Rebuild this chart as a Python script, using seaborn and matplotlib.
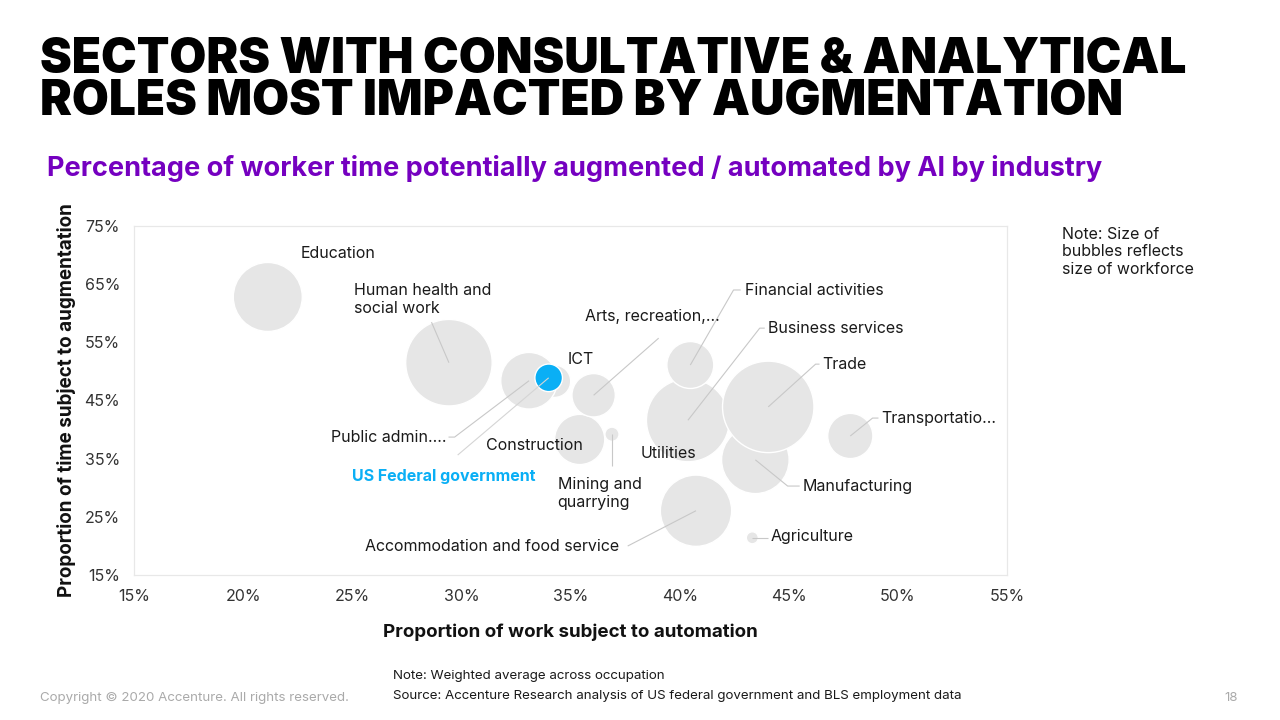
import matplotlib
matplotlib.use("Agg")
import matplotlib.pyplot as plt
import seaborn as sns
import pandas as pd

# ---------------- data ----------------
sectors = ["Utilities", "Business services", "Financial activities", "Manufacturing", "Trade",
           "Human health and social work", "Education", "Accommodation and food service",
           "Construction", "Mining and quarrying", "Arts, recreation,...", "ICT",
           "Public admin....", "Transportatio...", "Agriculture", "US Federal government"]
automation = [40.0, 40.38, 40.49, 43.47, 44.06, 29.43, 21.13, 40.75,
              35.42, 36.9, 36.06, 34.27, 33.1, 47.82, 43.33, 34.0]
augmentation = [40.5, 41.6, 51.1, 34.8, 43.9, 51.5, 62.8, 26.05,
                38.3, 39.2, 45.9, 48.3, 48.4, 38.9, 21.4, 48.9]
workforce = [0.3, 17.2, 5.5, 11.4, 20.9, 18.7, 11.9, 12.7,
             6.3, 0.5, 4.7, 2.6, 8.0, 5.1, 0.36, 1.9]
group = ["Industry"] * 15 + ["US Federal government"]

x_ticks = [15, 20, 25, 30, 35, 40, 45, 50, 55]
y_ticks = [15, 25, 35, 45, 55, 65, 75]

df = pd.DataFrame({"sector": sectors, "automation": automation,
                   "augmentation": augmentation, "workforce": workforce, "group": group})

# ---------------- style ----------------
sns.set_theme(style="white")
BODY = ["Inter", "DejaVu Sans"]
plt.rcParams["font.family"] = BODY
GREY = "#e6e6e6"
BLUE = "#0aaff5"
PURPLE = "#7500c0"
LINE = "#c8c8c8"

fig = plt.figure(figsize=(12.8, 7.2), dpi=100)
ax = fig.add_axes([134 / 1280, 1 - 575 / 720, (1007 - 134) / 1280, (575 - 226) / 720])

wmax = max(workforce)
sns.scatterplot(data=df, x="automation", y="augmentation", hue="group", size="workforce",
                palette={"Industry": GREY, "US Federal government": BLUE},
                sizes=(0, 207.36 * wmax), size_norm=(0, wmax),
                edgecolor="white", linewidth=1.0, alpha=1, legend=False, ax=ax, zorder=2)

ax.set_xlim(15, 55)
ax.set_ylim(15, 75)
ax.set_xticks(x_ticks)
ax.set_yticks(y_ticks)
ax.set_xticklabels([f"{v}%" for v in x_ticks], fontsize=11.5, color="#333333")
ax.set_yticklabels([f"{v}%" for v in y_ticks], fontsize=11.5, color="#333333")
ax.tick_params(axis="x", length=0, pad=10)
ax.tick_params(axis="y", length=0, pad=10)
for sp in ax.spines.values():
    sp.set_color("#e8e8e8")
    sp.set_linewidth(0.9)
ax.set_xlabel("Proportion of work subject to automation", fontsize=13.5, fontweight="bold",
              color="#111111", labelpad=14)
ax.set_ylabel("Proportion of time subject to augmentation", fontsize=13.6, fontweight="bold",
              color="#111111", labelpad=6)

# ---------------- labels & leader lines (layout) ----------------
# sector: (text x, text y, ha, leader-line waypoints after the bubble centre)
label_layout = {
    "Education": (22.63, 70.33, "left", []),
    "Human health and social work": (25.06, 62.34, "left", [(28.63, 58.47)]),
    "ICT": (34.87, 52.11, "left", []),
    "Arts, recreation,...": (35.65, 59.5, "left", [(39.04, 55.72)]),
    "Financial activities": (42.98, 63.97, "left", [(42.47, 64.0), (42.8, 64.0)]),
    "Business services": (44.03, 57.44, "left", [(43.67, 57.44), (43.9, 57.44)]),
    "Trade": (46.55, 51.25, "left", [(46.23, 51.25), (46.41, 51.25)]),
    "Transportatio...": (49.26, 41.98, "left", [(48.84, 41.98), (49.11, 41.98)]),
    "Manufacturing": (45.64, 30.29, "left", [(44.95, 30.29), (45.5, 30.29)]),
    "Agriculture": (44.17, 21.55, "left", [(44.03, 21.4)]),
    "Accommodation and food service": (37.25, 19.98, "right", [(37.62, 19.98)]),
    "Mining and quarrying": (34.41, 29.0, "left", [(36.9, 33.73)]),
    "Utilities": (38.21, 35.96, "left", []),
    "Construction": (31.15, 37.34, "left", []),
    "Public admin....": (29.32, 38.71, "right", [(29.69, 38.71), (29.41, 38.71)]),
    "US Federal government": (24.97, 32.01, "left", [(29.83, 35.62)]),
}
display_text = {"Human health and social work": "Human health and\nsocial work",
                "Mining and quarrying": "Mining and\nquarrying"}

for s, xa, ya in zip(sectors, automation, augmentation):
    tx, ty, ha, pts = label_layout[s]
    if pts:
        xs = [xa] + [p[0] for p in pts]
        ys = [ya] + [p[1] for p in pts]
        ax.plot(xs, ys, color=LINE if s != "US Federal government" else "#d5d5d5",
                lw=0.8, zorder=3, solid_capstyle="butt")
    is_fed = s == "US Federal government"
    ax.text(tx, ty, display_text.get(s, s), ha=ha, va="center",
            fontsize=11.5, color=BLUE if is_fed else "#1a1a1a",
            fontweight="bold" if is_fed else "normal", linespacing=1.25, zorder=4)

# ---------------- titles & notes ----------------
fig.text(40 / 1280, 1 - 81 / 720, "SECTORS WITH CONSULTATIVE & ANALYTICAL\nROLES MOST IMPACTED BY AUGMENTATION",
         fontsize=34.4, fontweight="black", color="black", ha="left", va="center",
         linespacing=0.9, family=BODY)
fig.text(47 / 1280, 1 - 169 / 720,
         "Percentage of worker time potentially augmented / automated by AI by industry",
         fontsize=19.5, fontweight="bold", color=PURPLE, ha="left", va="center")
fig.text(1062 / 1280, 1 - 252 / 720, "Note: Size of\nbubbles reflects\nsize of workforce",
         fontsize=11.5, color="#1a1a1a", ha="left", va="center", linespacing=1.2)
fig.text(393 / 1280, 1 - 676 / 720, "Note: Weighted average across occupation",
         fontsize=9.6, color="#1a1a1a", ha="left", va="center")
fig.text(393 / 1280, 1 - 696 / 720,
         "Source: Accenture Research analysis of US federal government and BLS employment data",
         fontsize=9.6, color="#1a1a1a", ha="left", va="center")
fig.text(40 / 1280, 1 - 698 / 720, "Copyright © 2020 Accenture. All rights reserved.",
         fontsize=9.6, color="#aaaaaa", ha="left", va="center")
fig.text(1238 / 1280, 1 - 698 / 720, "18", fontsize=9.5, color="#aaaaaa", ha="right", va="center")

fig.savefig("out.png", dpi=100, facecolor="white")
